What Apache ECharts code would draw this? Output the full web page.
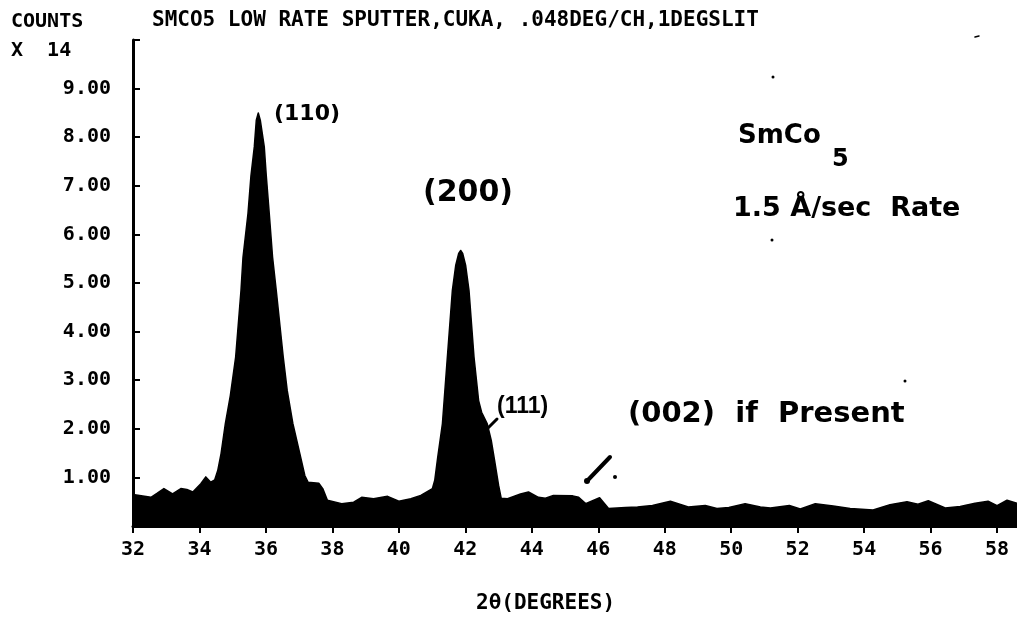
<!DOCTYPE html>
<html>
<head>
<meta charset="utf-8">
<script src="https://cdn.jsdelivr.net/npm/echarts@6/dist/echarts.min.js"></script>
<style>
  html, body { margin: 0; padding: 0; background: #fff; }
  #chart { width: 1017px; height: 621px; }
</style>
</head>
<body>
<div id="chart"></div>
<script>
// Diffraction scan of a SmCo5 film: 2-theta (degrees) against counts (x 10^4 scale units)
const twoTheta = [
  32.00, 32.54, 32.72, 32.93, 33.19, 33.44, 33.62, 33.80, 34.04, 34.19,
  34.34, 34.46, 34.55, 34.65, 34.78, 34.93, 35.09, 35.25, 35.31, 35.46,
  35.55, 35.65, 35.71, 35.77, 35.83, 35.95, 36.01, 36.10, 36.20, 36.31,
  36.52, 36.64, 36.81, 37.02, 37.17, 37.27, 37.59, 37.71, 37.85, 38.28,
  38.64, 38.88, 39.24, 39.66, 40.00, 40.36, 40.66, 41.01, 41.08, 41.17,
  41.31, 41.46, 41.61, 41.71, 41.80, 41.86, 41.92, 42.01, 42.11, 42.26,
  42.40, 42.49, 42.66, 42.78, 42.88, 43.00, 43.08, 43.27, 43.66, 43.90,
  44.20, 44.41, 44.65, 45.23, 45.41, 45.62, 46.04, 46.31, 46.82, 47.18,
  47.63, 48.17, 48.71, 49.22, 49.57, 49.93, 50.42, 50.88, 51.18, 51.75,
  52.08, 52.53, 53.07, 53.58, 54.27, 54.78, 55.29, 55.62, 55.93, 56.44,
  56.89, 57.34, 57.73, 58.00, 58.30, 58.60
];
const counts = [
  0.65, 0.59, 0.67, 0.77, 0.66, 0.77, 0.75, 0.70, 0.87, 1.01,
  0.90, 0.95, 1.14, 1.49, 2.11, 2.69, 3.48, 4.85, 5.53, 6.43,
  7.21, 7.80, 8.35, 8.50, 8.35, 7.80, 7.21, 6.43, 5.53, 4.85,
  3.48, 2.79, 2.11, 1.49, 1.04, 0.90, 0.88, 0.77, 0.53, 0.46,
  0.49, 0.59, 0.56, 0.61, 0.51, 0.56, 0.63, 0.77, 0.94, 1.42,
  2.10, 3.48, 4.85, 5.36, 5.61, 5.67, 5.61, 5.36, 4.85, 3.48,
  2.58, 2.34, 2.10, 1.76, 1.35, 0.84, 0.57, 0.56, 0.66, 0.70,
  0.59, 0.57, 0.63, 0.62, 0.59, 0.46, 0.58, 0.36, 0.38, 0.39,
  0.42, 0.51, 0.39, 0.42, 0.36, 0.38, 0.46, 0.39, 0.37, 0.42,
  0.35, 0.46, 0.41, 0.36, 0.33, 0.44, 0.50, 0.45, 0.52, 0.37,
  0.40, 0.47, 0.51, 0.42, 0.53, 0.47
];

// tick positions on the 2-theta axis
const xTicks = [32, 34, 36, 38, 40, 42, 44, 46, 48, 50, 52, 54, 56, 58];
const xRange = { min: 32, max: 58.6, step: 2 };
const yRange = { min: 0, max: 10, step: 1 };

const printerFont = '"DejaVu Sans Mono", "Liberation Mono", monospace';
const handFont = '"DejaVu Sans", "Noto Sans", sans-serif';

function label(text, x, y, size, family, weight) {
  return {
    type: 'text', x: x, y: y, silent: true,
    style: {
      text: text, fill: '#000',
      font: (weight || 'bold') + ' ' + size + 'px ' + family,
      verticalAlign: 'middle', textVerticalAlign: 'middle'
    }
  };
}
function dot(cx, cy, r) {
  return { type: 'circle', shape: { cx: cx, cy: cy, r: r }, style: { fill: '#000' }, silent: true };
}
function stroke(x1, y1, x2, y2, w) {
  return {
    type: 'line', shape: { x1: x1, y1: y1, x2: x2, y2: y2 }, silent: true,
    style: { stroke: '#000', lineWidth: w, lineCap: 'round' }
  };
}

const chart = echarts.init(document.getElementById('chart'), null, { renderer: 'canvas' });

chart.setOption({
  backgroundColor: '#fff',
  animation: false,
  grid: { left: 133, right: 0, top: 40, bottom: 95, containLabel: false },
  xAxis: {
    type: 'value',
    min: xRange.min, max: xRange.max, interval: xRange.step,
    axisLine: { show: true, lineStyle: { color: '#000', width: 3 } },
    axisTick: { show: true, length: 7, customValues: xTicks, lineStyle: { color: '#000', width: 2 } },
    splitLine: { show: false },
    axisLabel: {
      margin: 14, color: '#000', fontFamily: printerFont, fontWeight: 'bold', fontSize: 20,
      customValues: xTicks,
      formatter: v => String(v)
    }
  },
  yAxis: {
    type: 'value',
    min: yRange.min, max: yRange.max, interval: yRange.step,
    axisLine: { show: true, lineStyle: { color: '#000', width: 3 } },
    axisTick: { show: true, inside: true, length: 7, lineStyle: { color: '#000', width: 2 } },
    splitLine: { show: false },
    axisLabel: {
      margin: 22, color: '#000', fontFamily: printerFont, fontWeight: 'bold', fontSize: 20,
      formatter: v => (v === yRange.min || v === yRange.max ? '' : v.toFixed(2))
    }
  },
  series: [{
    type: 'line',
    data: twoTheta.map((t, i) => [t, counts[i]]),
    smooth: false,
    showSymbol: false,
    lineStyle: { color: '#000', width: 1.5, join: 'round' },
    areaStyle: { color: '#000', opacity: 1 },
    clip: true
  }],
  graphic: {
    elements: [
      // printout header
      label('COUNTS', 11, 22, 20, printerFont),
      label('X  14', 11, 51, 20, printerFont),
      label('SMCO5 LOW RATE SPUTTER,CUKA, .048DEG/CH,1DEGSLIT', 152, 21, 21, printerFont),
      label('2θ(DEGREES)', 476, 604, 21, printerFont),
      // hand-lettered peak notes
      label('(110)', 274, 114, 22, handFont),
      label('(200)', 423, 193, 30, handFont),
      label('(111)', 497, 407, 23, '"Liberation Sans", sans-serif'),
      stroke(497, 419, 488, 428, 3),
      label('(002)  if  Present', 628, 414, 29, handFont),
      stroke(610, 457, 588, 480, 4),
      dot(587, 481, 3),
      dot(615, 477, 2),
      label('SmCo', 738, 136, 26, handFont),
      label('5', 832, 160, 24, handFont),
      label('1.5 Å/sec  Rate', 733, 209, 27, handFont),
      dot(772, 240, 1.5),
      dot(905, 381, 1.5),
      dot(773, 77, 1.5),
      stroke(975, 37, 979, 36, 1.5)
    ]
  }
});
</script>
</body>
</html>
